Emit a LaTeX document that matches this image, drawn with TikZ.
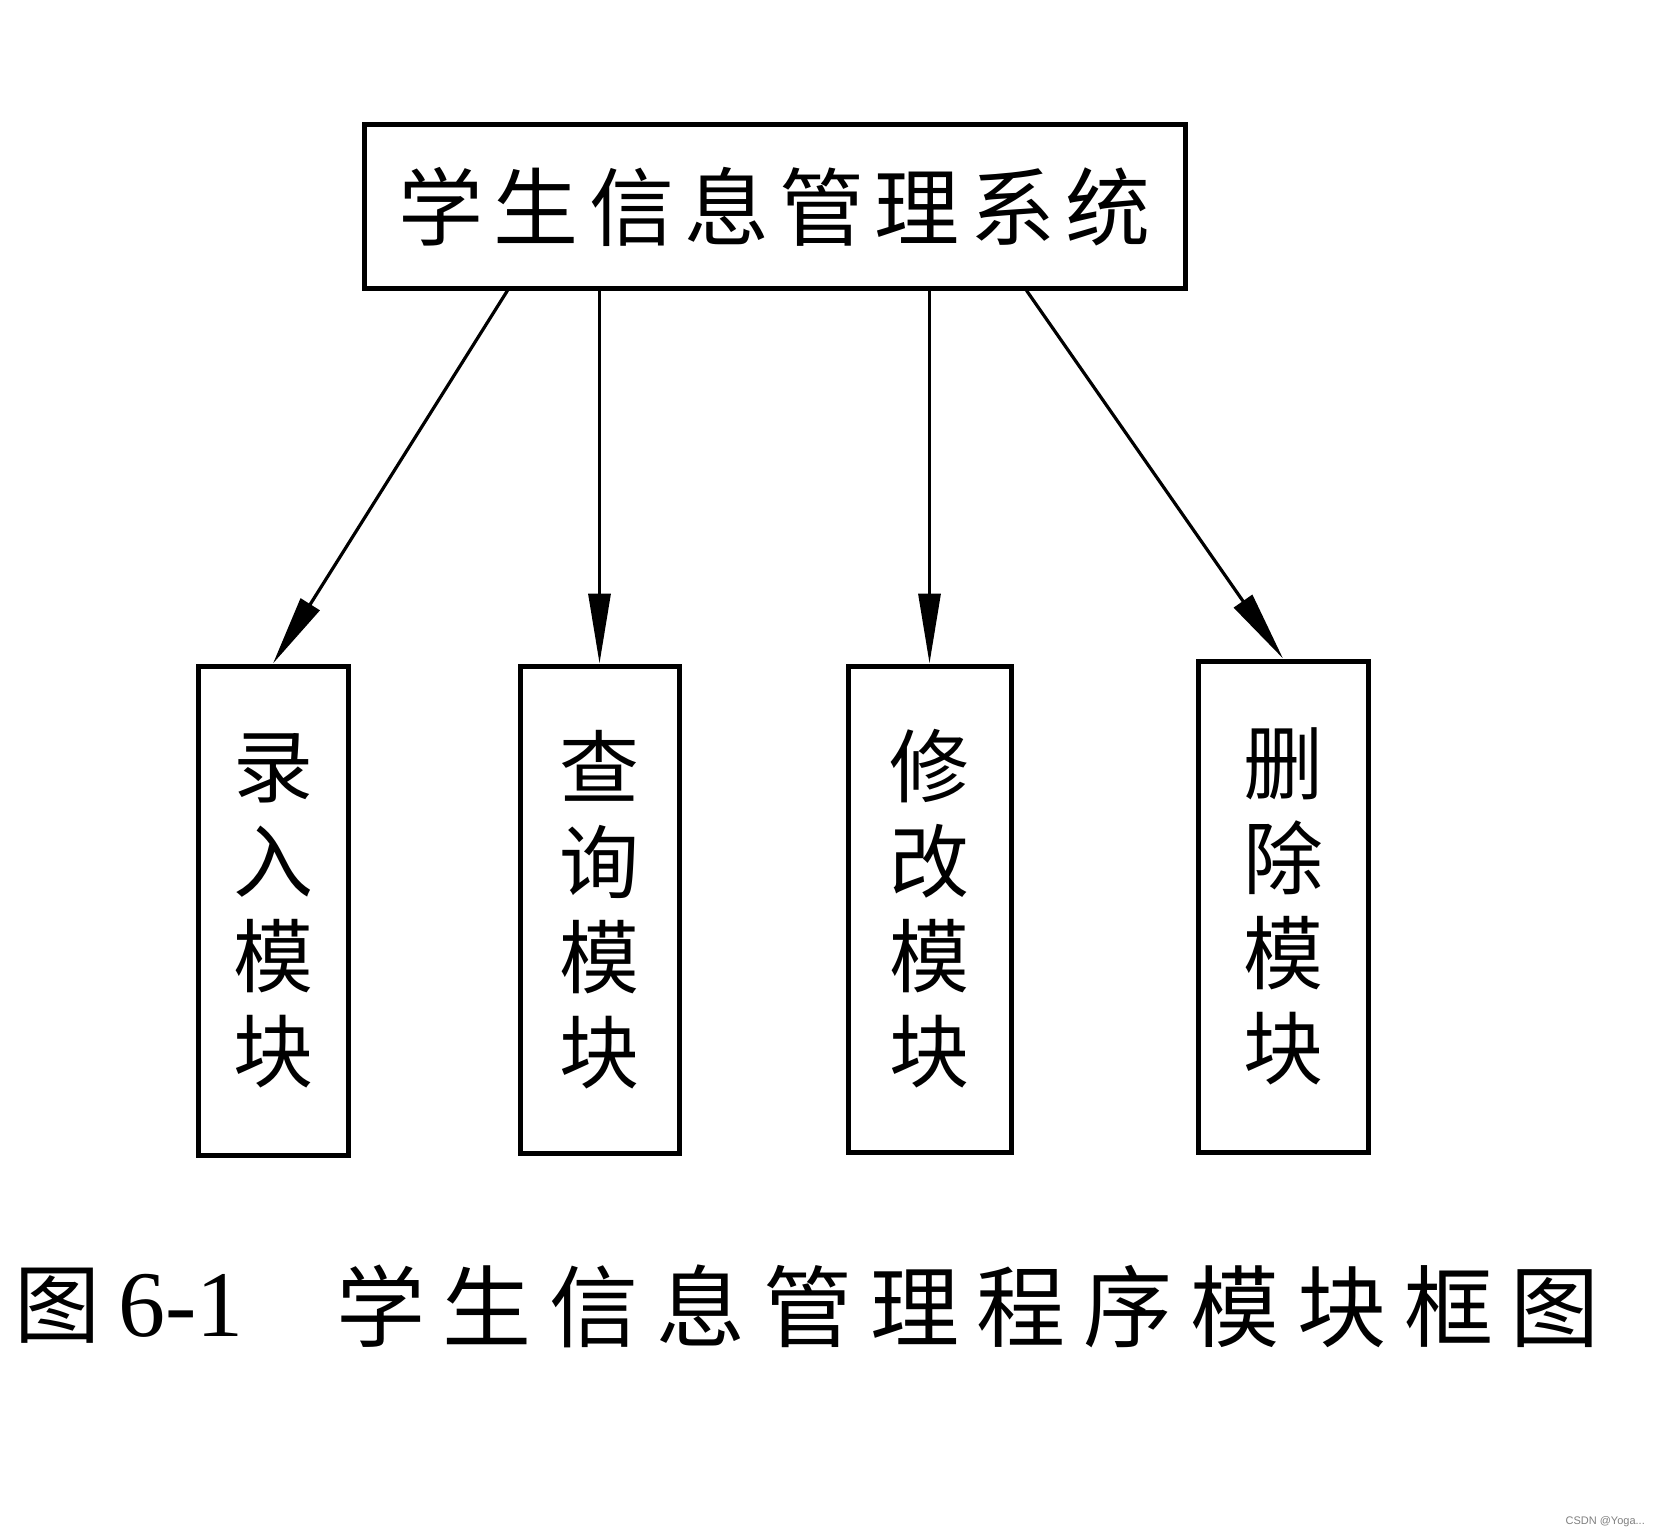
\documentclass[tikz,border=0pt]{standalone}
\usepackage{fontspec}
\newfontfamily\cjk{Noto Sans CJK SC}
\newfontfamily\cjkwide[LetterSpace=12]{Noto Sans CJK SC}
\newfontfamily\capwide[LetterSpace=20]{Noto Sans CJK SC}
\newfontfamily\numfont{Liberation Serif}
\newfontfamily\wmfont{Liberation Sans}
\usetikzlibrary{arrows.meta}
\begin{document}
\begin{tikzpicture}[x=1pt,y=-1pt,
  box/.style={draw=black, line width=5pt, inner sep=0pt},
  mod/.style={box, font=\cjk\fontsize{80}{95}\selectfont, align=center},
  arr/.style={line width=3.2pt, -{Triangle[length=70pt,width=22pt]}}]
\useasboundingbox[fill=white] (0,0) rectangle (1662,1536);
\node[box, minimum width=821pt, minimum height=163pt, font=\cjkwide\fontsize{85}{85}\selectfont] (top) at (774.5,206.5) {学生信息管理系统};
\node[mod, minimum width=150pt, minimum height=489pt] (m1) at (273,910.5) {录\\入\\模\\块};
\node[mod, minimum width=159pt, minimum height=487pt] (m2) at (599.5,909.5) {查\\询\\模\\块};
\node[mod, minimum width=163pt, minimum height=486pt] (m3) at (929.5,909) {修\\改\\模\\块};
\node[mod, minimum width=170pt, minimum height=491pt] (m4) at (1283,906.5) {删\\除\\模\\块};
\draw[arr] ([xshift=-267pt]top.south) -- (m1.north);
\draw[arr] (top.south -| m2.north) -- (m2.north);
\draw[arr] (top.south -| m3.north) -- (m3.north);
\draw[arr] ([xshift=252pt]top.south) -- (m4.north);
\node[anchor=west, inner sep=0pt, font=\cjk\fontsize{86}{86}\selectfont] (cap1) at (14,1306) {图\hspace{18pt}{\numfont\fontsize{94}{94}\selectfont 6-1}};
\node[anchor=west, inner sep=0pt, font=\capwide\fontsize{89}{89}\selectfont] (cap2) at (336,1306) {学生信息管理程序模块框图};
\node[anchor=east, inner sep=0pt, font=\wmfont\fontsize{11}{11}\selectfont, text=gray] (wm) at (1645,1522) {CSDN @Yoga...};
\end{tikzpicture}
\end{document}
